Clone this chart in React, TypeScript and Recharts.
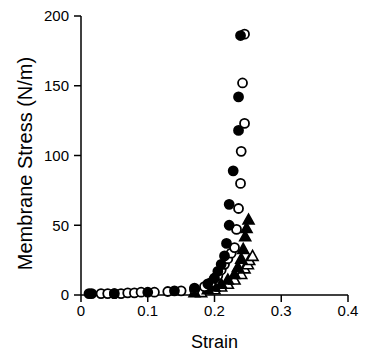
import { ScatterChart, Scatter, XAxis, YAxis } from "recharts";

// strain / stress (N/m)
const filledCircleStrain = [0.012, 0.016, 0.05, 0.1, 0.14, 0.17, 0.19, 0.2, 0.205, 0.21, 0.215, 0.218, 0.222, 0.222, 0.228, 0.236, 0.236, 0.239];
const filledCircleStress = [1, 1, 1, 2, 3, 5, 8, 12, 17, 22, 28, 37, 50, 65, 89, 118, 142, 186];

const openCircleStrain = [0.03, 0.04, 0.05, 0.06, 0.07, 0.08, 0.09, 0.11, 0.13, 0.15, 0.17, 0.185, 0.195, 0.2, 0.205, 0.21, 0.215, 0.22, 0.225, 0.23, 0.233, 0.236, 0.239, 0.24, 0.245, 0.242, 0.245];
const openCircleStress = [1, 1, 1, 1, 1.5, 1.5, 2, 2, 2.5, 3, 4, 6, 9, 12, 14, 18, 22, 26, 30, 34, 47, 62, 80, 103, 123, 152, 187];

const filledTriStrain = [0.17, 0.19, 0.2, 0.21, 0.22, 0.23, 0.235, 0.24, 0.243, 0.246, 0.248, 0.251];
const filledTriStress = [2, 4, 6, 8, 11, 15, 20, 26, 33, 42, 48, 54];

const openTriStrain = [0.18, 0.2, 0.21, 0.22, 0.23, 0.24, 0.245, 0.25, 0.252, 0.257];
const openTriStress = [2, 4, 6, 8, 11, 15, 19, 22, 25, 28];

const xTicks = [0, 0.1, 0.2, 0.3, 0.4];
const yTicks = [0, 50, 100, 150, 200];

const toPoints = (xs: number[], ys: number[]) => xs.map((x, i) => ({ x, y: ys[i] }));

const font = "Liberation Sans, Arial, sans-serif";

const Circle = (fill: string) => (p: any) => (
  <circle cx={p.cx} cy={p.cy} r={4.5} fill={fill} stroke="#000" strokeWidth={1.8} />
);

const Tri = (fill: string) => (p: any) => {
  const s = 5.5;
  return (
    <path
      d={`M${p.cx},${p.cy - s} L${p.cx + s},${p.cy + s * 0.8} L${p.cx - s},${p.cy + s * 0.8} Z`}
      fill={fill}
      stroke="#000"
      strokeWidth={1.6}
    />
  );
};

// y title sits a bit below the plot's middle in the original
const YTitle = (p: any) => {
  const vb = p.viewBox;
  const cx = 25;
  const cy = vb.y + vb.height / 2 + 8;
  return (
    <text x={cx} y={cy} transform={`rotate(-90 ${cx} ${cy})`} textAnchor="middle" dominantBaseline="central" fill="#000" fontSize={20} fontFamily={font}>
      Membrane Stress (N/m)
    </text>
  );
};

export default function App() {
  return (
    <div style={{ position: "absolute", left: 0, top: 0, background: "#fff" }}>
      <ScatterChart width={365} height={353} margin={{ top: 16, right: 17, left: 0, bottom: 0 }}>
        <XAxis
          type="number"
          dataKey="x"
          domain={[0, 0.4]}
          ticks={xTicks}
          tickFormatter={(v: number) => String(v)}
          height={58}
          stroke="#000"
          strokeWidth={1.5}
          tickSize={7}
          tickMargin={3}
          tick={{ fill: "#000", fontSize: 15, fontFamily: font }}
          label={{ value: "Strain", position: "insideBottom", offset: 5, fill: "#000", fontSize: 18, fontFamily: font }}
        />
        <YAxis
          type="number"
          dataKey="y"
          domain={[0, 200]}
          ticks={yTicks}
          width={81}
          stroke="#000"
          strokeWidth={1.5}
          tickSize={7}
          tickMargin={5}
          tick={{ fill: "#000", fontSize: 15, fontFamily: font }}
          label={<YTitle />}
        />
        <Scatter data={toPoints(openTriStrain, openTriStress)} shape={Tri("#fff")} isAnimationActive={false} />
        <Scatter data={toPoints(filledTriStrain, filledTriStress)} shape={Tri("#000")} isAnimationActive={false} />
        <Scatter data={toPoints(openCircleStrain, openCircleStress)} shape={Circle("#fff")} isAnimationActive={false} />
        <Scatter data={toPoints(filledCircleStrain, filledCircleStress)} shape={Circle("#000")} isAnimationActive={false} />
      </ScatterChart>
    </div>
  );
}
